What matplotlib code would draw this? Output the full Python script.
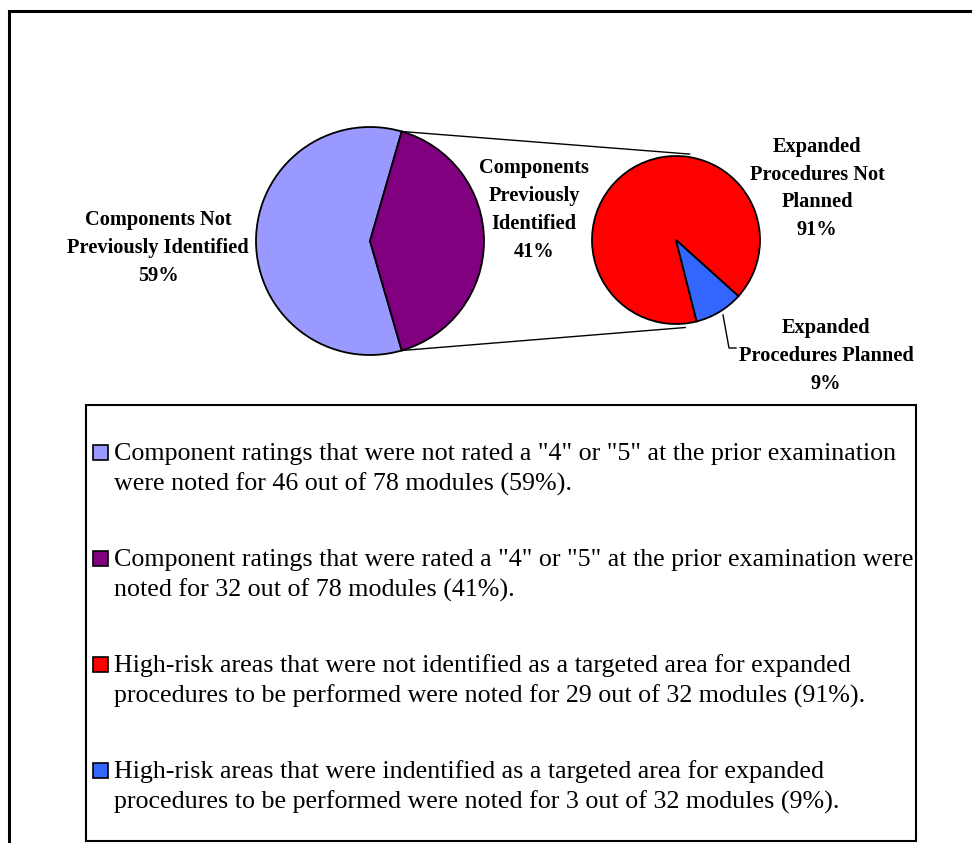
import matplotlib
matplotlib.use("Agg")
import matplotlib.pyplot as plt
from matplotlib.patches import Rectangle
import numpy as np

# ---- data ----
main_labels = ["Components Not\nPreviously Identified", "Components\nPreviously\nIdentified"]
main_values = [46, 32]
main_colors = ["#9999FF", "#800080"]

sub_labels = ["Expanded\nProcedures Not\nPlanned", "Expanded\nProcedures Planned"]
sub_values = [29, 3]
sub_colors = ["#FF0000", "#3366FF"]

main_total = sum(main_values)
sub_total = sum(sub_values)
main_pct = [round(100 * v / main_total) for v in main_values]
sub_pct = [round(100 * v / sub_total) for v in sub_values]

legend_lines = [
    ['Component ratings that were not rated a "4" or "5" at the prior examination',
     f'were noted for {main_values[0]} out of {main_total} modules ({main_pct[0]}%).'],
    ['Component ratings that were rated a "4" or "5" at the prior examination were',
     f'noted for {main_values[1]} out of {main_total} modules ({main_pct[1]}%).'],
    ['High-risk areas that were not identified as a targeted area for expanded',
     f'procedures to be performed were noted for {sub_values[0]} out of {sub_total} modules ({sub_pct[0]}%).'],
    ['High-risk areas that were indentified as a targeted area for expanded',
     f'procedures to be performed were noted for {sub_values[1]} out of {sub_total} modules ({sub_pct[1]}%).'],
]
legend_colors = main_colors + sub_colors

# ---- canvas in pixel units (y measured from the top) ----
W, H = 972, 843
plt.rcParams["font.family"] = ["Liberation Serif", "DejaVu Serif"]
fig = plt.figure(figsize=(W / 100, H / 100), dpi=100)
ax = fig.add_axes([0, 0, 1, 1])


def Y(y):
    return H - y


edge = dict(edgecolor="black", linewidth=1.3)

# main pie: the second slice is centred on the right-hand side
c1 = (370, Y(241))
r1 = 114
half = 180 * main_values[1] / main_total
ax.pie(main_values, colors=main_colors, center=c1, radius=r1,
       startangle=half, counterclock=True, wedgeprops=edge)

# secondary pie breaking down the second slice
c2 = (676, Y(240))
r2 = 84
ax.pie(sub_values, colors=sub_colors, center=c2, radius=r2,
       startangle=-42, counterclock=True, wedgeprops=edge)

# series lines joining the two pies
a = np.deg2rad(half)
p_top = (c1[0] + r1 * np.cos(a), c1[1] + r1 * np.sin(a))
p_bot = (c1[0] + r1 * np.cos(a), c1[1] - r1 * np.sin(a))
q_top = (c2[0] + (r2 + 3) * np.cos(np.deg2rad(81)), c2[1] + (r2 + 3) * np.sin(np.deg2rad(81)))
q_bot = (c2[0] + (r2 + 4) * np.cos(np.deg2rad(-84)), c2[1] + (r2 + 4) * np.sin(np.deg2rad(-84)))
ax.plot([p_top[0], q_top[0]], [p_top[1], q_top[1]], color="black", lw=1.0)
ax.plot([p_bot[0], q_bot[0]], [p_bot[1], q_bot[1]], color="black", lw=1.0)


def text_block(x, yc, lines, step, size, weight="normal"):
    n = len(lines)
    for i, s in enumerate(lines):
        y = yc + (i - (n - 1) / 2) * step
        ax.text(x, Y(y + 0.33 * size * 100 / 72), s, ha="center", va="baseline",
                fontsize=size, fontweight=weight)


lab_size = 14.7
text_block(158, 246, main_labels[0].split("\n") + [f"{main_pct[0]}%"], 28, lab_size, "bold")
text_block(534, 208, main_labels[1].split("\n") + [f"{main_pct[1]}%"], 28, lab_size, "bold")
text_block(817, 187, sub_labels[0].split("\n") + [f"{sub_pct[0]}%"], 27.5, lab_size, "bold")
text_block(826, 354, sub_labels[1].split("\n") + [f"{sub_pct[1]}%"], 28, lab_size, "bold")

# leader line for the small slice label
ax.plot([723, 729, 736], [Y(315), Y(348), Y(348)], color="black", lw=1.0)

# legend box
box_l, box_t, box_r, box_b = 86, 405, 916, 841
ax.add_patch(Rectangle((box_l, Y(box_b)), box_r - box_l, box_b - box_t,
                       fill=False, edgecolor="black", lw=1.5))
leg_size = 18.7
first_base = 460
item_step = 106
line_step = 31
for i, (lines, col) in enumerate(zip(legend_lines, legend_colors)):
    b = first_base + i * item_step
    ax.add_patch(Rectangle((93, Y(b)), 15, 15, facecolor=col, edgecolor="black", lw=1.2))
    for j, s in enumerate(lines):
        ax.text(114, Y(b + j * line_step), s, ha="left", va="baseline", fontsize=leg_size)

# outer frame
ax.add_patch(Rectangle((9, -10), W + 20, Y(11) + 10, fill=False, edgecolor="black", lw=2.2))

ax.set_xlim(0, W)
ax.set_ylim(0, H)
ax.set_aspect("auto")
ax.axis("off")
fig.savefig("out.png", dpi=100)
